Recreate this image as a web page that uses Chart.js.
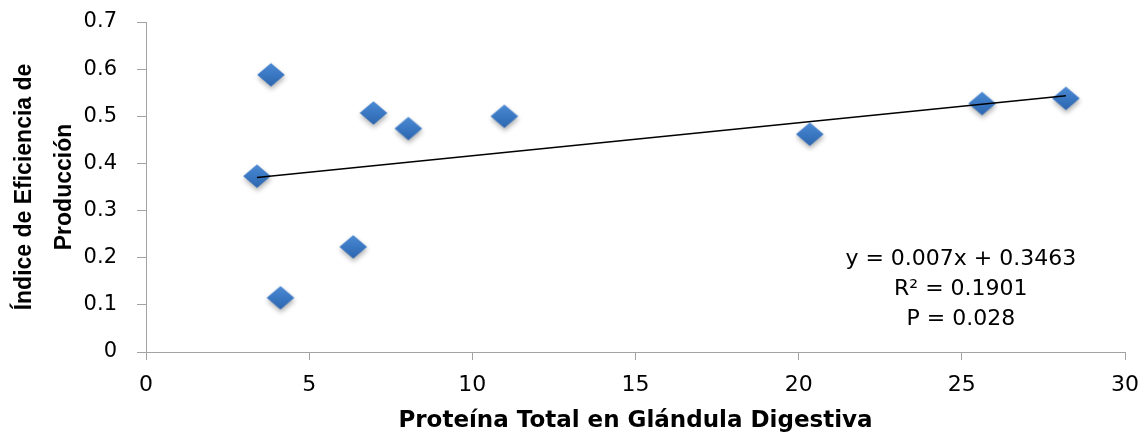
<!DOCTYPE html>
<html lang="es">
<head>
<meta charset="utf-8">
<title>Índice de Eficiencia de Producción vs Proteína Total</title>
<script src="https://cdn.jsdelivr.net/npm/chart.js@4.4.1/dist/chart.umd.min.js"></script>
<style>
  html, body { margin: 0; padding: 0; background: #ffffff; }
  #wrap { position: relative; width: 1141px; height: 435px; }
</style>
</head>
<body>
<div id="wrap"><canvas id="grafico"></canvas></div>
<script>
// Proteína total en glándula digestiva (eje X)
const proteinaTotal = [3.40, 3.83, 4.12, 6.35, 6.97, 8.04, 10.98, 20.34, 25.62, 28.19];
// Índice de eficiencia de producción (eje Y)
const indiceEficiencia = [0.373, 0.588, 0.115, 0.223, 0.507, 0.474, 0.500, 0.462, 0.527, 0.538];

// Regresión lineal publicada
const pendiente = 0.007;
const intercepto = 0.3463;
const textoRegresion = ['y = 0.007x + 0.3463', 'R² = 0.1901', 'P = 0.028'];

// Ticks de los ejes
const ticksX = [0, 5, 10, 15, 20, 25, 30];
const etiquetasX = ['0', '5', '10', '15', '20', '25', '30'];
const ticksY = [0, 0.1, 0.2, 0.3, 0.4, 0.5, 0.6, 0.7];
const etiquetasY = ['0', '0.1', '0.2', '0.3', '0.4', '0.5', '0.6', '0.7'];

const tituloX = 'Proteína Total en Glándula Digestiva';
const tituloY = ['Índice de Eficiencia de', 'Producción'];

// Puntos de dispersión
const puntos = proteinaTotal.map((x, i) => ({ x: x, y: indiceEficiencia[i] }));

// Línea de tendencia entre el mínimo y el máximo de X
const xMin = Math.min(...proteinaTotal);
const xMax = Math.max(...proteinaTotal);
const tendencia = [xMin, xMax].map(x => ({ x: x, y: pendiente * x + intercepto }));

// Marcador en rombo con degradado y sombra suave
function crearRombo() {
  const c = document.createElement('canvas');
  c.width = 40; c.height = 40;
  const g = c.getContext('2d');
  const cx = 20, cy = 20, hw = 13.8, hh = 11.7;
  g.save();
  g.shadowColor = 'rgba(0,0,0,0.30)';
  g.shadowBlur = 5;
  g.shadowOffsetX = 0.5;
  g.shadowOffsetY = 3;
  const grad = g.createLinearGradient(0, cy - hh, 0, cy + hh);
  grad.addColorStop(0, '#4d8ad4');
  grad.addColorStop(0.5, '#3b78c3');
  grad.addColorStop(1, '#2d66ae');
  g.fillStyle = grad;
  g.beginPath();
  g.moveTo(cx, cy - hh);
  g.lineTo(cx + hw, cy);
  g.lineTo(cx, cy + hh);
  g.lineTo(cx - hw, cy);
  g.closePath();
  g.fill();
  g.restore();
  return c;
}
const rombo = crearRombo();

const colorEje = '#a3a3a3';

// Texto de la ecuación de regresión
const textoEcuacion = {
  id: 'textoEcuacion',
  afterDatasetsDraw(chart) {
    const { ctx, chartArea, scales } = chart;
    const cx = scales.x.getPixelForValue(25) - 1;
    ctx.save();
    ctx.fillStyle = '#000000';
    ctx.font = '22px "DejaVu Sans"';
    ctx.textAlign = 'center';
    ctx.textBaseline = 'middle';
    textoRegresion.forEach((t, i) => {
      ctx.fillText(t, cx, chartArea.bottom - 93 + i * 30);
    });
    ctx.restore();
  }
};

new Chart(document.getElementById('grafico'), {
  type: 'scatter',
  data: {
    datasets: [
      {
        label: 'Tendencia',
        type: 'line',
        data: tendencia,
        borderColor: '#000000',
        borderWidth: 1.5,
        pointRadius: 0,
        fill: false,
        clip: false,
        order: 0
      },
      {
        label: 'Índice de eficiencia',
        data: puntos,
        pointStyle: rombo,
        pointRadius: 14,
        backgroundColor: '#3a76c0',
        clip: false,
        order: 1
      }
    ]
  },
  options: {
    responsive: true,
    maintainAspectRatio: false,
    animation: false,
    layout: { autoPadding: false, padding: { top: 22, right: 16, left: 0, bottom: 0 } },
    plugins: {
      legend: { display: false },
      tooltip: { enabled: false }
    },
    scales: {
      x: {
        type: 'linear',
        min: 0,
        max: 30,
        afterBuildTicks(scale) { scale.ticks = ticksX.map(v => ({ value: v })); },
        ticks: {
          callback: (v) => etiquetasX[ticksX.indexOf(v)],
          color: '#000000',
          font: { family: '"DejaVu Sans"', size: 22 },
          padding: 12,
          maxRotation: 0,
          autoSkip: false
        },
        grid: { drawOnChartArea: false, drawTicks: true, tickLength: 8, color: colorEje, lineWidth: 1 },
        border: { color: colorEje, width: 1 },
        title: {
          display: true,
          text: tituloX,
          color: '#000000',
          font: { family: '"DejaVu Sans"', size: 23, weight: 'bold', lineHeight: 1.2 },
          padding: { top: 0, bottom: 0 }
        },
        afterFit(scale) {
          scale.height = 83;
          scale.paddingLeft = 0;
          scale.paddingRight = 0;
        }
      },
      y: {
        type: 'linear',
        min: 0,
        max: 0.7,
        afterBuildTicks(scale) { scale.ticks = ticksY.map(v => ({ value: v })); },
        ticks: {
          callback: (v) => etiquetasY[ticksY.findIndex(t => Math.abs(t - v) < 1e-9)],
          color: '#000000',
          font: { family: '"DejaVu Sans"', size: 21 },
          padding: 20,
          autoSkip: false
        },
        grid: { drawOnChartArea: false, drawTicks: true, tickLength: 9, color: colorEje, lineWidth: 1 },
        border: { color: colorEje, width: 1 },
        title: {
          display: true,
          text: tituloY,
          color: '#000000',
          font: { family: '"Liberation Sans"', size: 23, weight: 'bold', lineHeight: 1.74 },
          padding: { top: 5, bottom: 0 }
        },
        afterFit(scale) {
          scale.width = 146;
          scale.paddingTop = 0;
          scale.paddingBottom = 0;
        }
      }
    }
  },
  plugins: [textoEcuacion]
});
</script>
</body>
</html>
